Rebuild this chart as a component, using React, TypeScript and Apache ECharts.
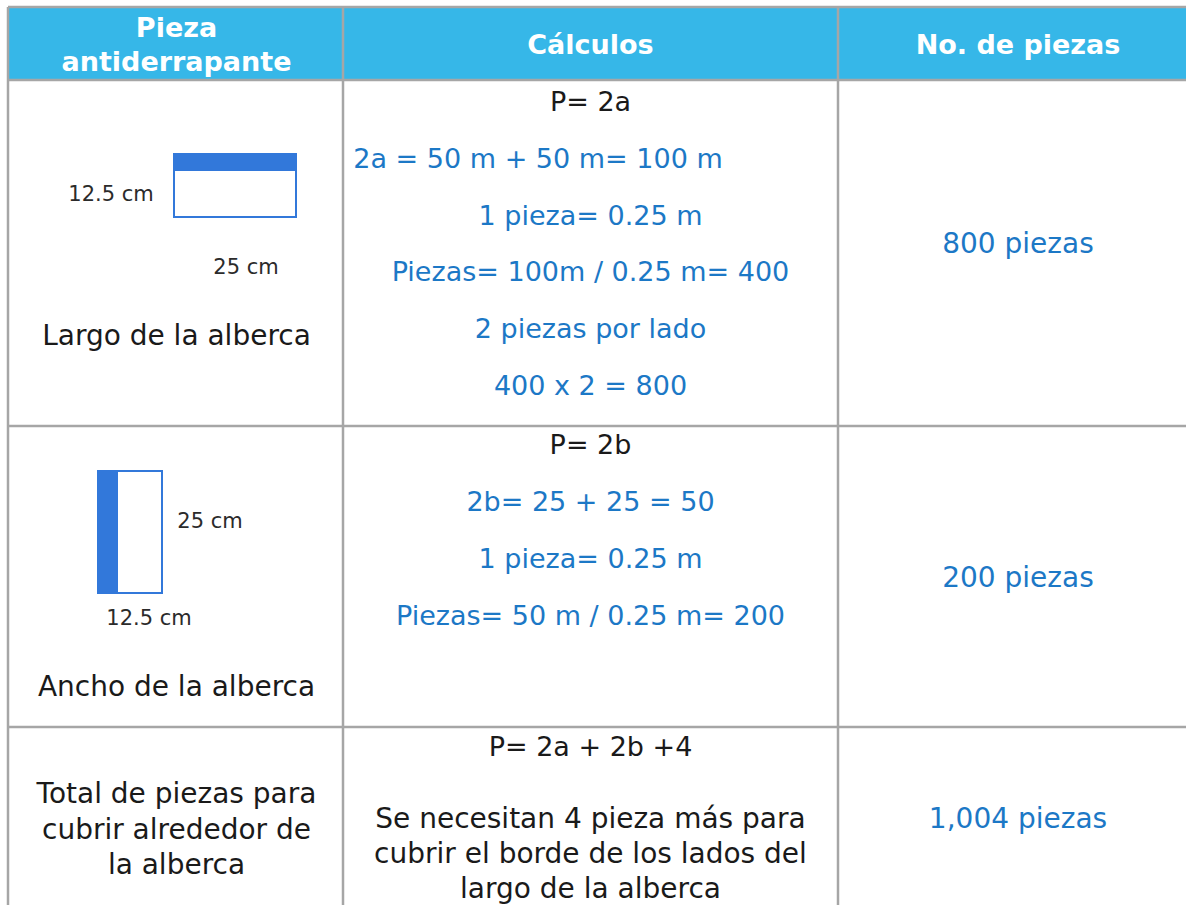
import React, { useEffect, useRef } from "react";
import * as echarts from "echarts";

// ---- content ----
const headerTexts = ["Pieza\nantiderrapante", "Cálculos", "No. de piezas"];
const rowLabels = [
  "Largo de la alberca",
  "Ancho de la alberca",
  "Total de piezas para\ncubrir alrededor de\nla alberca",
];
const formulas = ["P= 2a", "P= 2b", "P= 2a + 2b +4"];
const calcLargo = [
  "2a = 50 m + 50 m= 100 m",
  "1 pieza= 0.25 m",
  "Piezas= 100m / 0.25 m= 400",
  "2 piezas por lado",
  "400 x 2 = 800",
];
const calcAncho = ["2b= 25 + 25 = 50", "1 pieza= 0.25 m", "Piezas= 50 m / 0.25 m= 200"];
const calcTotalNote = "Se necesitan 4 pieza más para\ncubrir el borde de los lados del\nlargo de la alberca";
const totals = ["800 piezas", "200 piezas", "1,004 piezas"];
const pieceLargoDims = ["12.5 cm", "25 cm"];
const pieceAnchoDims = ["25 cm", "12.5 cm"];

// ---- styling ----
const FONT = "'DejaVu Sans', sans-serif";
const HEADER_BG = "#36B7E8";
const BORDER = "#A6A6A6";
const BLUE_TEXT = "#1C78C6";
const PIECE_BLUE = "#3278DA";
const BLACK = "#1a1a1a";
const CALC_SIZE = 27;
const LABEL_SIZE = 28;

const colX = [8, 343, 838, 1200];
const rowY = [7, 80, 426, 727, 920];

function txt(text: string, x: number, y: number, opts: any = {}) {
  return {
    type: "text",
    z: 10,
    style: {
      text,
      x,
      y,
      fill: opts.fill || BLACK,
      fontSize: opts.size || CALC_SIZE,
      fontFamily: FONT,
      fontWeight: opts.weight || "normal",
      align: opts.align || "center",
      verticalAlign: "middle",
      lineHeight: opts.lineHeight || 35,
    },
  };
}

export default function App() {
  const ref = useRef<HTMLDivElement>(null);
  useEffect(() => {
    if (!ref.current) return;
    const chart = echarts.init(ref.current, null, { renderer: "svg" });
    const els: any[] = [];
    // header background
    els.push({
      type: "rect",
      z: 1,
      shape: { x: colX[0], y: rowY[0], width: colX[3] - colX[0], height: rowY[1] - rowY[0] },
      style: { fill: HEADER_BG },
    });
    // grid lines
    for (const y of rowY.slice(0, 4)) {
      els.push({ type: "line", z: 5, shape: { x1: colX[0], y1: y, x2: colX[3], y2: y }, style: { stroke: BORDER, lineWidth: 2.5 } });
    }
    for (const x of colX.slice(0, 3)) {
      els.push({ type: "line", z: 5, shape: { x1: x, y1: rowY[0], x2: x, y2: rowY[4] }, style: { stroke: BORDER, lineWidth: 2.5 } });
    }
    const c0 = (colX[0] + colX[1]) / 2 + 1;
    const c1 = (colX[1] + colX[2]) / 2;
    const c2 = 1018;
    // headers
    els.push(txt(headerTexts[0], c0, 44, { fill: "#fff", weight: "bold", size: 27, lineHeight: 34 }));
    els.push(txt(headerTexts[1], c1, 44, { fill: "#fff", weight: "bold", size: 27 }));
    els.push(txt(headerTexts[2], c2, 44, { fill: "#fff", weight: "bold", size: 27 }));

    // row 1
    els.push({ type: "rect", z: 6, shape: { x: 174, y: 154, width: 122, height: 63 }, style: { fill: "#fff", stroke: PIECE_BLUE, lineWidth: 2 } });
    els.push({ type: "rect", z: 7, shape: { x: 173, y: 153, width: 124, height: 18 }, style: { fill: PIECE_BLUE } });
    els.push(txt(pieceLargoDims[0], 111, 194, { size: 21, fill: "#2b2b2b" }));
    els.push(txt(pieceLargoDims[1], 246, 267, { size: 21, fill: "#2b2b2b" }));
    els.push(txt(rowLabels[0], c0, 335, { size: LABEL_SIZE }));
    els.push(txt(formulas[0], c1, 101));
    const l1y = [158, 215, 271, 328, 385];
    const l1x = [538, c1, c1, c1, c1];
    calcLargo.forEach((s, i) => els.push(txt(s, l1x[i], l1y[i], { fill: BLUE_TEXT })));
    els.push(txt(totals[0], c2, 243, { fill: BLUE_TEXT, size: LABEL_SIZE }));

    // row 2
    els.push({ type: "rect", z: 6, shape: { x: 98, y: 471, width: 64, height: 122 }, style: { fill: "#fff", stroke: PIECE_BLUE, lineWidth: 2 } });
    els.push({ type: "rect", z: 7, shape: { x: 97, y: 470, width: 21, height: 124 }, style: { fill: PIECE_BLUE } });
    els.push(txt(pieceAnchoDims[0], 210, 521, { size: 21, fill: "#2b2b2b" }));
    els.push(txt(pieceAnchoDims[1], 149, 618, { size: 21, fill: "#2b2b2b" }));
    els.push(txt(rowLabels[1], c0, 686, { size: LABEL_SIZE }));
    els.push(txt(formulas[1], c1, 444));
    const l2y = [501, 558, 615];
    calcAncho.forEach((s, i) => els.push(txt(s, c1, l2y[i], { fill: BLUE_TEXT })));
    els.push(txt(totals[1], c2, 577, { fill: BLUE_TEXT, size: LABEL_SIZE }));

    // row 3
    els.push(txt(rowLabels[2], c0, 829, { lineHeight: 35.5, size: LABEL_SIZE }));
    els.push(txt(formulas[2], c1, 746));
    els.push(txt(calcTotalNote, c1, 853, { lineHeight: 35, size: LABEL_SIZE }));
    els.push(txt(totals[2], c2, 818, { fill: BLUE_TEXT, size: LABEL_SIZE }));

    chart.setOption({ animation: false, graphic: { elements: els } });
    return () => chart.dispose();
  }, []);
  return (
    <div
      ref={ref}
      style={{ position: "fixed", left: 0, top: 0, width: 1186, height: 905, background: "#fff" }}
    />
  );
}
